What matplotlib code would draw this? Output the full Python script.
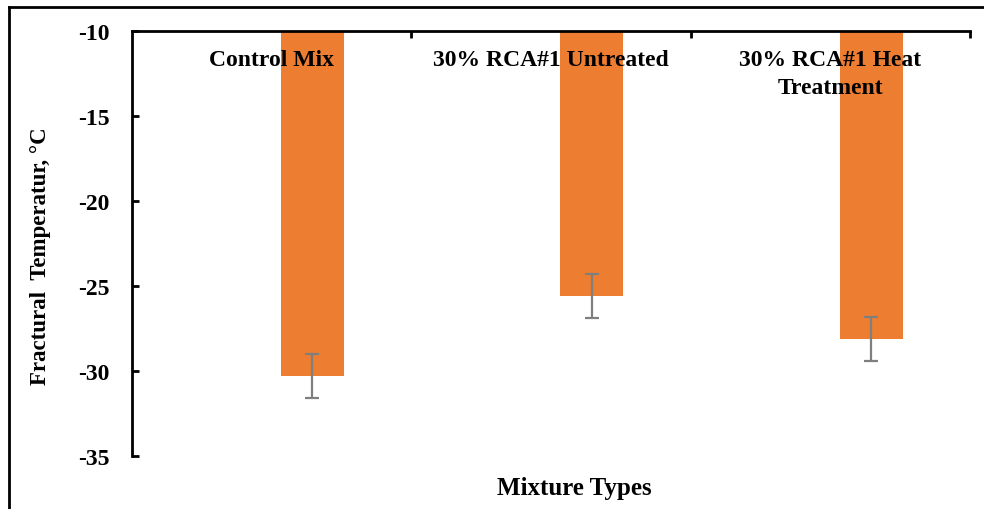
import matplotlib
matplotlib.use("Agg")
import matplotlib.pyplot as plt
from matplotlib.lines import Line2D
import numpy as np

categories = ["Control Mix", "30% RCA#1 Untreated", "30% RCA#1 Heat\nTreatment"]
fracture_temp = [-30.3, -25.6, -28.1]
std_dev = [1.3, 1.3, 1.3]
y_ticks = [-10, -15, -20, -25, -30, -35]

plt.rcParams["font.family"] = ["Liberation Serif", "DejaVu Serif"]
plt.rcParams["font.weight"] = "bold"

fig = plt.figure(figsize=(9.84, 5.10), dpi=100)
ax = fig.add_axes([0.134, 0.104, 0.852, 0.833])

x = np.arange(len(categories))
bar_offset = 0.146
bar_base = -10
heights = [v - bar_base for v in fracture_temp]
ax.bar(x + bar_offset, heights, bottom=bar_base, width=0.225,
       color="#ED7D31", edgecolor="none", zorder=2)
ax.errorbar(x + bar_offset, fracture_temp, yerr=std_dev, fmt="none",
            ecolor="#7F7F7F", elinewidth=1.6, capsize=5, capthick=1.6, zorder=3)

ax.set_xlim(-0.5, 2.5)
ax.set_ylim(-35, -10)
ax.set_yticks(y_ticks)
ax.set_yticklabels([str(t) for t in y_ticks], fontsize=17, fontweight="bold")

# category axis sits at the top, ticks at category boundaries
ax.xaxis.set_ticks_position("top")
ax.set_xticks([0.5, 1.5, 2.5])
ax.set_xticklabels([])
ax.tick_params(axis="x", direction="in", length=5, width=2)
ax.tick_params(axis="y", direction="in", length=5, width=2, pad=16)

for xi, name in zip(x, categories):
    ax.text(xi, -11.05, name, ha="center", va="top", fontsize=17,
            fontweight="bold", linespacing=1.45, zorder=4)

for side in ("right", "bottom"):
    ax.spines[side].set_visible(False)
for side in ("left", "top"):
    ax.spines[side].set_linewidth(2)

fig.text(0.041, 0.498, "Fractural  Temperatur, \u00b0C", rotation=90,
         ha="center", va="center", fontsize=16.5, fontweight="bold")
fig.text(0.584, 0.043, "Mixture Types", ha="center", va="center",
         fontsize=18, fontweight="bold")

# outer frame lines (top and left)
fig.add_artist(Line2D([9 / 984, 1.0], [1 - 8 / 510, 1 - 8 / 510],
                      transform=fig.transFigure, color="black", lw=2))
fig.add_artist(Line2D([9 / 984, 9 / 984], [0.0, 1 - 8 / 510],
                      transform=fig.transFigure, color="black", lw=2))

fig.savefig("out.png", dpi=100)
